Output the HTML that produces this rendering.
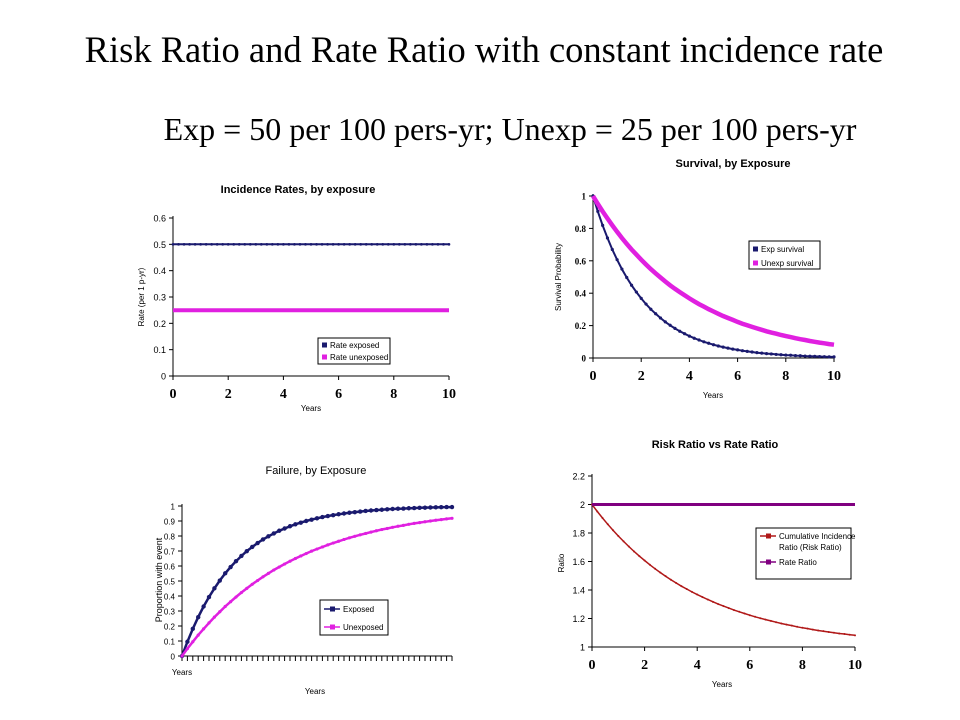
<!DOCTYPE html>
<html><head><meta charset="utf-8"><style>
body{margin:0;background:#fff;width:960px;height:720px;overflow:hidden}
svg{position:absolute;left:0;top:0}
text{font-family:"Liberation Sans",sans-serif}
.ser{font-family:"Liberation Serif",serif}
</style></head><body>
<svg id="s" width="960" height="720" xmlns="http://www.w3.org/2000/svg">
<text class="ser" x="484" y="62" font-size="36.5" text-anchor="middle">Risk Ratio and Rate Ratio with constant incidence rate</text>
<text class="ser" x="510" y="140" font-size="32" text-anchor="middle">Exp = 50 per 100 pers-yr;  Unexp = 25 per 100 pers-yr</text>
</svg>
<script>
const years=[0,0.2,0.4,0.6,0.8,1,1.2,1.4,1.6,1.8,2,2.2,2.4,2.6,2.8,3,3.2,3.4,3.6,3.8,4,4.2,4.4,4.6,4.8,5,5.2,5.4,5.6,5.8,6,6.2,6.4,6.6,6.8,7,7.2,7.4,7.6,7.8,8,8.2,8.4,8.6,8.8,9,9.2,9.4,9.6,9.8,10];
const rateExp=[0.5,0.5,0.5,0.5,0.5,0.5,0.5,0.5,0.5,0.5,0.5,0.5,0.5,0.5,0.5,0.5,0.5,0.5,0.5,0.5,0.5,0.5,0.5,0.5,0.5,0.5,0.5,0.5,0.5,0.5,0.5,0.5,0.5,0.5,0.5,0.5,0.5,0.5,0.5,0.5,0.5,0.5,0.5,0.5,0.5,0.5,0.5,0.5,0.5,0.5,0.5];
const rateUnexp=[0.25,0.25,0.25,0.25,0.25,0.25,0.25,0.25,0.25,0.25,0.25,0.25,0.25,0.25,0.25,0.25,0.25,0.25,0.25,0.25,0.25,0.25,0.25,0.25,0.25,0.25,0.25,0.25,0.25,0.25,0.25,0.25,0.25,0.25,0.25,0.25,0.25,0.25,0.25,0.25,0.25,0.25,0.25,0.25,0.25,0.25,0.25,0.25,0.25,0.25,0.25];
const survExp=[1,.905,.819,.741,.670,.607,.549,.497,.449,.407,.368,.333,.301,.273,.247,.223,.202,.183,.165,.150,.135,.122,.111,.100,.091,.082,.074,.067,.061,.055,.050,.045,.041,.037,.033,.030,.027,.025,.022,.020,.018,.017,.015,.014,.012,.011,.010,.009,.008,.007,.007];
const survUnexp=[1,.951,.905,.861,.819,.779,.741,.705,.670,.638,.607,.577,.549,.522,.497,.472,.449,.427,.407,.387,.368,.350,.333,.317,.301,.287,.273,.259,.247,.235,.223,.212,.202,.192,.183,.174,.165,.157,.150,.142,.135,.129,.122,.116,.111,.105,.100,.095,.091,.086,.082];
const failExp=[0,.095,.181,.259,.330,.393,.451,.503,.551,.593,.632,.667,.699,.727,.753,.777,.798,.817,.835,.850,.865,.878,.889,.900,.909,.918,.926,.933,.939,.945,.950,.955,.959,.963,.967,.970,.973,.975,.978,.980,.982,.983,.985,.986,.988,.989,.990,.991,.992,.993,.993];
const failUnexp=[0,.049,.095,.139,.181,.221,.259,.295,.330,.362,.393,.423,.451,.478,.503,.528,.551,.573,.593,.613,.632,.650,.667,.683,.699,.713,.727,.741,.753,.765,.777,.788,.798,.808,.817,.826,.835,.843,.850,.858,.865,.871,.878,.884,.889,.895,.900,.905,.909,.914,.918];
const riskRatio=[2,1.951,1.905,1.861,1.819,1.779,1.741,1.705,1.670,1.638,1.607,1.577,1.549,1.522,1.497,1.472,1.449,1.427,1.407,1.387,1.368,1.350,1.333,1.317,1.301,1.287,1.273,1.259,1.247,1.235,1.223,1.212,1.202,1.192,1.183,1.174,1.165,1.157,1.150,1.142,1.135,1.129,1.122,1.116,1.111,1.105,1.100,1.095,1.091,1.086,1.082];
const rateRatio=[2,2,2,2,2,2,2,2,2,2,2,2,2,2,2,2,2,2,2,2,2,2,2,2,2,2,2,2,2,2,2,2,2,2,2,2,2,2,2,2,2,2,2,2,2,2,2,2,2,2,2];
const xTicks=[0,2,4,6,8,10];
const yTicks1=[0,0.1,0.2,0.3,0.4,0.5,0.6];
const yTicks2=[0,0.2,0.4,0.6,0.8,1];
const yTicks3=[0,0.1,0.2,0.3,0.4,0.5,0.6,0.7,0.8,0.9,1];
const yTicks4=[1,1.2,1.4,1.6,1.8,2,2.2];

const S=document.getElementById('s');const NS='http://www.w3.org/2000/svg';
function mk(t,a,p){const e=document.createElementNS(NS,t);for(const k in a)e.setAttribute(k,a[k]);(p||S).appendChild(e);return e;}
function chart(c){
  const g=mk('g',{});
  
  
  const sx=v=>c.x0+(v-c.xmin)/(c.xmax-c.xmin)*(c.x1-c.x0);
  const sy=v=>c.y0-(v-c.ymin)/(c.ymax-c.ymin)*(c.y0-c.y1);
  const t=mk('text',{x:c.tx,y:c.ty,'font-size':c.tfs||11,'font-weight':c.tb?'bold':'normal','text-anchor':'middle'},g);t.textContent=c.title;
  
  
  mk('line',{x1:c.x0,y1:c.y0,x2:c.x0,y2:c.y1-2,stroke:'#000'},g);
  mk('line',{x1:c.x0,y1:c.y0,x2:c.x1,y2:c.y0,stroke:'#000'},g);
  c.yt.forEach(v=>{mk('line',{x1:c.x0-4,x2:c.x0,y1:sy(v),y2:sy(v),stroke:'#000'},g);
    const l=mk('text',{x:c.x0-7,y:sy(v)+3.5,'font-size':c.yfs,'font-weight':c.yb?'bold':'normal','text-anchor':'end',class:c.yser?'ser':''},g);l.textContent=String(v);
    
    });
  if(c.minor){years.forEach(v=>mk('line',{x1:sx(v),x2:sx(v),y1:c.y0,y2:c.y0+5,stroke:'#000'},g));}
  else xTicks.forEach(v=>{mk('line',{x1:sx(v),x2:sx(v),y1:c.y0,y2:c.y0+4,stroke:'#000'},g);
    const l=mk('text',{x:sx(v),y:c.y0+22,'font-size':14,'font-weight':'bold','text-anchor':'middle',class:'ser'},g);l.textContent=String(v);
    
    });
  const xl=mk('text',{x:c.xlx,y:c.xly,'font-size':8,'text-anchor':'middle'},g);xl.textContent='Years';
  
  
  const yl=mk('text',{transform:`translate(${c.ylx},${c.yly}) rotate(-90)`,'font-size':c.ylfs||8,'text-anchor':'middle'},g);yl.textContent=c.ytitle;
  
  
  c.series.forEach(s=>{
    const d=years.map((x,i)=>(i?'L':'M')+sx(x).toFixed(1)+','+sy(s.data[i]).toFixed(1)).join('');
    const p=mk('path',{d:d,fill:'none',stroke:s.color,'stroke-width':s.w},g);
    
    
    if(s.mark) years.forEach((x,i)=>{
      const m=mk('circle',{cx:sx(x),cy:sy(s.data[i]),r:s.mark,fill:s.color},g);
      
      });
  });
  const L=c.leg;
  const lg=mk('g',{},g);
  
  
  mk('rect',{x:L.x,y:L.y,width:L.w,height:L.h,fill:'#fff',stroke:'#000'},lg);
  L.items.forEach(it=>{
    if(it.line) mk('line',{x1:L.x+4,x2:L.x+20,y1:it.y,y2:it.y,stroke:it.color,'stroke-width':1.5},lg);
    mk('rect',{x:L.x+(it.line?10:4),y:it.y-2.5,width:5,height:5,fill:it.color},lg);
    it.lines.forEach((tx,j)=>{const e=mk('text',{x:L.x+(it.line?23:12),y:it.y+3+j*11,'font-size':8},lg);e.textContent=tx;
      
      });
  });
}
chart({name:'incidence-rates-chart',title:'Incidence Rates, by exposure',tx:298,ty:193,tb:1,tfs:11,x0:173,x1:449,y0:376,y1:218,xmin:0,xmax:10,ymin:0,ymax:0.6,yt:yTicks1,yfs:9,xlx:311,xly:411,ylx:144,yly:297,ytitle:'Rate (per 1 p-yr)',
 series:[{name:'rate-exposed',data:rateExp,color:'#1a1a6e',w:2,mark:1.3},{name:'rate-unexposed',data:rateUnexp,color:'#e020e0',w:4}],
 leg:{x:318,y:338,w:72,h:26,items:[{y:345,color:'#1a1a6e',lines:['Rate exposed']},{y:357,color:'#e020e0',lines:['Rate unexposed']}]}});
chart({name:'survival-chart',title:'Survival, by Exposure',tx:733,ty:167,tb:1,tfs:11,x0:593,x1:834,y0:358,y1:196,xmin:0,xmax:10,ymin:0,ymax:1,yt:yTicks2,yfs:9,yb:1,yser:1,xlx:713,xly:398,ylx:561,yly:277,ytitle:'Survival Probability',
 series:[{name:'exp-survival',data:survExp,color:'#1a1a6e',w:2,mark:1.6},{name:'unexp-survival',data:survUnexp,color:'#e020e0',w:4.5}],
 leg:{x:749,y:241,w:71,h:28,items:[{y:249,color:'#1a1a6e',lines:['Exp survival']},{y:263,color:'#e020e0',lines:['Unexp survival']}]}});
chart({name:'failure-chart',title:'Failure, by Exposure',tx:316,ty:474,tfs:11,x0:182,x1:452,y0:656,y1:506,xmin:0,xmax:10,ymin:0,ymax:1,yt:yTicks3,yfs:8,minor:1,xlx:315,xly:694,ylx:162,yly:580,ylfs:9,ytitle:'Proportion with event',
 series:[{name:'exposed-failure',data:failExp,color:'#1a1a6e',w:2.5,mark:2.2},{name:'unexposed-failure',data:failUnexp,color:'#e020e0',w:2.5,mark:1.6}],
 leg:{x:320,y:600,w:68,h:35,items:[{y:609,color:'#1a1a6e',line:1,lines:['Exposed']},{y:627,color:'#e020e0',line:1,lines:['Unexposed']}]}});
const yl2=mk('text',{x:182,y:675,'font-size':8,'text-anchor':'middle'});yl2.textContent='Years';


chart({name:'ratio-chart',title:'Risk Ratio vs Rate Ratio',tx:715,ty:448,tb:1,tfs:11,x0:592,x1:855,y0:647,y1:476,xmin:0,xmax:10,ymin:1,ymax:2.2,yt:yTicks4,yfs:9,xlx:722,xly:687,ylx:564,yly:563,ytitle:'Ratio',
 series:[{name:'risk-ratio',data:riskRatio,color:'#b01818',w:1.5,mark:1},{name:'rate-ratio',data:rateRatio,color:'#800080',w:3}],
 leg:{x:756,y:528,w:95,h:51,items:[{y:536,color:'#b01818',line:1,lines:['Cumulative Incidence','Ratio (Risk Ratio)']},{y:562,color:'#800080',line:1,lines:['Rate Ratio']}]}});
</script>
</body></html>
